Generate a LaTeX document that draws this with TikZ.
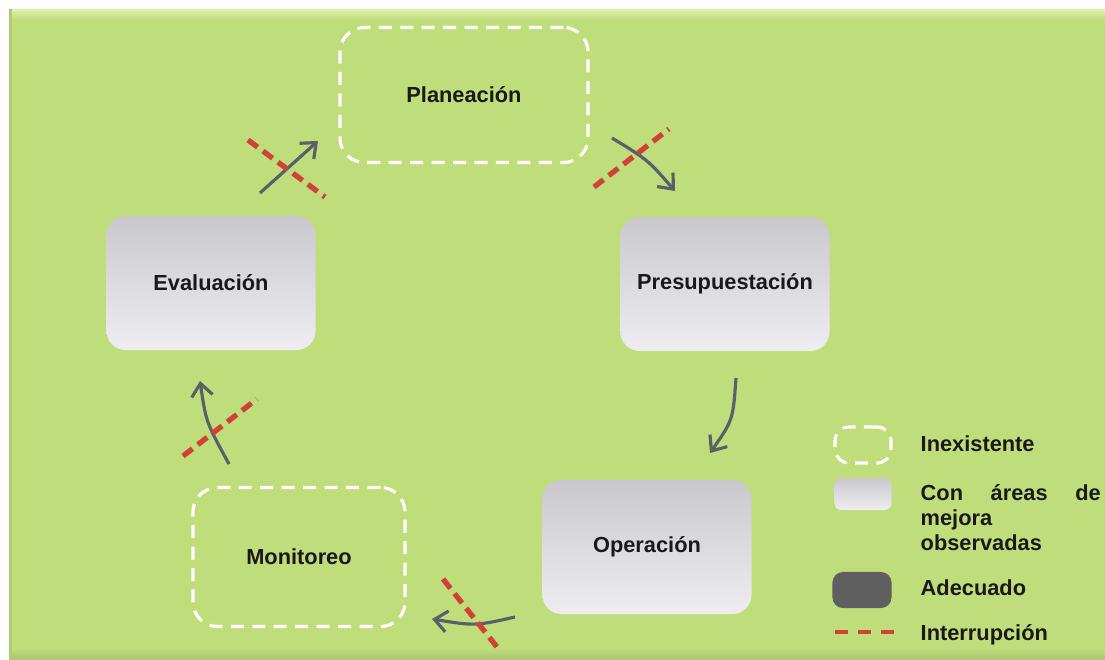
\documentclass[tikz,border=0pt]{standalone}
\usepackage{fontspec}
\setmainfont{Liberation Sans}
\usepackage{tikz}
\usetikzlibrary{arrows.meta, positioning, calc}
\definecolor{bgGreen}{RGB}{192,221,124}
\definecolor{bgLight}{RGB}{222,240,170}
\definecolor{bgDark}{RGB}{170,196,110}
\definecolor{boxTop}{RGB}{200,200,205}
\definecolor{boxMid}{RGB}{197,197,197}
\definecolor{boxBot}{RGB}{238,238,242}
\definecolor{arrowGray}{RGB}{90,96,104}
\definecolor{cutRed}{RGB}{208,66,56}
\definecolor{darkBox}{RGB}{95,95,95}
\definecolor{txtBlack}{RGB}{25,25,25}
\tikzset{
    labelFont/.style={font=\fontsize{6.2}{7.1}\selectfont\bfseries, text=txtBlack},
    stageBox/.style={rectangle, rounded corners=5.5pt, top color=boxTop, middle color=boxMid, bottom color=boxBot, labelFont},
    inexBox/.style={rectangle, rounded corners=7pt, draw=white, line width=0.9pt, dash pattern=on 3.7pt off 2.4pt, labelFont},
    flowArrow/.style={-{Straight Barb[length=3.6pt, width=6pt]}, line width=0.9pt, draw=arrowGray},
    cutLine/.style={line width=1.5pt, draw=cutRed, dash pattern=on 3.4pt off 1.9pt},
    legendText/.style={labelFont, anchor=base west, inner sep=0pt}
}
\begin{document}
\begin{tikzpicture}[x=0.01cm, y=-0.01cm]

        % --- Background ---
        \useasboundingbox (0,0) rectangle (1105,660);
        \fill[white] (0,0) rectangle (1105,660);
        \fill[bgGreen] (9,9) rectangle (1105,660);
        \shade[top color=bgLight, bottom color=bgGreen] (9,9) rectangle (1105,20);
        \shade[top color=bgGreen, bottom color=bgDark] (9,648) rectangle (1105,660);
        \fill[bgDark!70!bgGreen] (9,9) rectangle (12,660);

        % --- Stages ---
        \node[inexBox, minimum width=2.48cm, minimum height=1.35cm] (plan) at (464,95) {Planeación};
        \node[stageBox, minimum width=2.09cm, minimum height=1.34cm] (pres) at (725,284) {Presupuestación};
        \node[stageBox, minimum width=2.09cm, minimum height=1.34cm] (oper) at (647,547) {Operación};
        \node[inexBox, minimum width=2.12cm, minimum height=1.39cm] (moni) at (299,557) {Monitoreo};
        \node[stageBox, minimum width=2.09cm, minimum height=1.34cm] (eval) at (211,283) {Evaluación};

        % --- Arrow ends ---
        \coordinate (evaOut) at (260,193);
        \coordinate (planIn) at (318,141);
        \coordinate (planOut) at (612,138);
        \coordinate (presIn) at (675,191);
        \coordinate (presOut) at (736,378);
        \coordinate (operIn) at (710,453);
        \coordinate (operOut) at (515,617);
        \coordinate (moniIn) at (432,619);
        \coordinate (moniOut) at (229,464);
        \coordinate (evalIn) at (200,381);

        % --- Cycle arrows ---
        \draw[flowArrow] (evaOut) -- (planIn);
        \draw[flowArrow] (planOut) .. controls (648,160) .. (presIn);
        \draw[flowArrow] (presOut) .. controls (733,420) .. (operIn);
        \draw[flowArrow] (operOut) .. controls (475,626) .. (moniIn);
        \draw[flowArrow] (moniOut) .. controls (206,422) .. (evalIn);

        % --- Interruptions ---
        \coordinate (cutAs) at (248,140);  \coordinate (cutAe) at (325,197);
        \coordinate (cutBs) at (594,187);  \coordinate (cutBe) at (669,129);
        \coordinate (cutCs) at (443,579);  \coordinate (cutCe) at (497,647);
        \coordinate (cutDs) at (183,456);  \coordinate (cutDe) at (257,399);
        \draw[cutLine] (cutAs) -- (cutAe);
        \draw[cutLine] (cutBs) -- (cutBe);
        \draw[cutLine] (cutCs) -- (cutCe);
        \draw[cutLine] (cutDs) -- (cutDe);

        % --- Legend ---
        \node[inexBox, rounded corners=4pt, minimum width=0.56cm, minimum height=0.36cm] (legInex) at (863,445) {};
        \node[stageBox, rounded corners=2pt, minimum width=0.57cm, minimum height=0.32cm] (legMejora) at (863,494) {};
        \node[rectangle, rounded corners=3pt, fill=darkBox, minimum width=0.59cm, minimum height=0.36cm] (legAdec) at (862,590) {};
        \coordinate (legCutS) at (835,632);
        \coordinate (legCutE) at (900,632);
        \draw[cutLine, line width=1.2pt, dash pattern=on 3.7pt off 2.9pt] (legCutS) -- (legCutE);

        \node[legendText] (txtInex) at (920,451) {Inexistente};
        \node[legendText] (txtCon) at (920,500) {\hbox to 1.8cm{Con\hfill áreas\hfill de}};
        \node[legendText] (txtMej) at (920,525) {mejora};
        \node[legendText] (txtObs) at (920,550) {observadas};
        \node[legendText] (txtAdec) at (920,595) {Adecuado};
        \node[legendText] (txtInt) at (920,640) {Interrupción};

\end{tikzpicture}
\end{document}
